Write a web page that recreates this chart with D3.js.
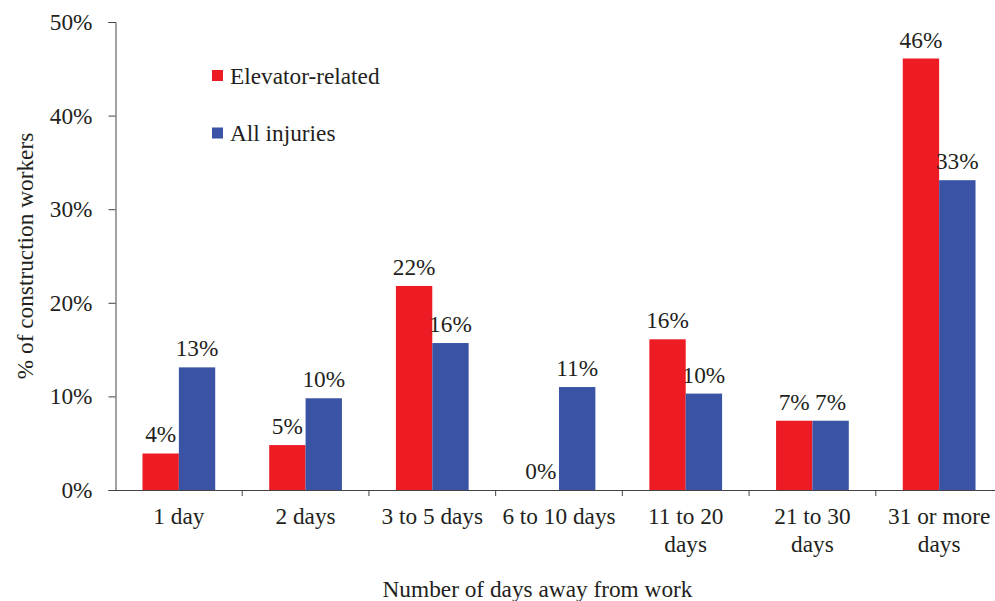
<!DOCTYPE html>
<html>
<head>
<meta charset="utf-8">
<script src="https://cdn.jsdelivr.net/npm/d3@7"></script>
<style>
  body { margin: 0; background: #fff; }
  svg text { fill: #231f20; }
</style>
</head>
<body>
<div id="chart"></div>
<script>
// categories and values
var categories = ["1 day", "2 days", "3 to 5 days", "6 to 10 days", "11 to 20 days", "21 to 30 days", "31 or more days"];
// how each category label is broken into lines
var categoryLines = [["1 day"], ["2 days"], ["3 to 5 days"], ["6 to 10 days"], ["11 to 20", "days"], ["21 to 30", "days"], ["31 or more", "days"]];
var seriesNames = ["Elevator-related", "All injuries"];
var elevator = [3.9, 4.8, 21.8, 0, 16.1, 7.4, 46.1];
var allInjuries = [13.1, 9.8, 15.7, 11.0, 10.3, 7.4, 33.1];
var yTicks = [0, 10, 20, 30, 40, 50];

var colors = ["#ed1c24", "#3b53a4"];
var width = 995, height = 601;
var serif = "'Times New Roman', 'Liberation Serif', serif";
var fs = "23.3px";

var svg = d3.select("#chart").append("svg")
    .attr("width", width)
    .attr("height", height)
    .style("font-family", serif);

var x = d3.scaleBand()
    .domain(categories)
    .range([115.5, 1002.5])
    .padding(0);

var y = d3.scaleLinear()
    .domain([0, 50])
    .range([490, 22]);

var barW = x.bandwidth() * 0.287;

// y axis
var yAxis = d3.axisLeft(y)
    .tickValues(yTicks)
    .tickSize(7)
    .tickPadding(16)
    .tickFormat(function(d){ return d + "%"; });

var gy = svg.append("g")
    .attr("transform", "translate(115.5,0)")
    .call(yAxis)
    .attr("font-family", null);
gy.selectAll("path, line").attr("stroke", "#444");
gy.selectAll("text").style("font-size", fs).attr("fill", "#231f20");

// bars
var series = [elevator, allInjuries];
series.forEach(function(vals, s){
    svg.append("g").selectAll("rect")
        .data(vals)
        .enter().append("rect")
        .attr("x", function(d, i){ return x(categories[i]) + x.bandwidth()/2 - barW + s*barW; })
        .attr("y", function(d){ return y(d); })
        .attr("width", barW)
        .attr("height", function(d){ return y(0) - y(d); })
        .attr("fill", colors[s]);

    svg.append("g").selectAll("text")
        .data(vals)
        .enter().append("text")
        .attr("x", function(d, i){ return x(categories[i]) + x.bandwidth()/2 - barW/2 + s*barW; })
        .attr("y", function(d){ return y(d) - 11; })
        .attr("text-anchor", "middle")
        .style("font-size", fs)
        .text(function(d){ return Math.round(d) + "%"; });
});

// x axis
var xAxis = d3.axisBottom(x).tickSize(0).tickFormat("");
var gx = svg.append("g")
    .attr("transform", "translate(0,490)")
    .call(xAxis);
gx.select("path").attr("stroke", "#444").attr("d", "M109,0.5H1002");

// category boundary ticks
svg.append("g").selectAll("line")
    .data(categories.slice(1))
    .enter().append("line")
    .attr("x1", function(d){ return x(d); })
    .attr("x2", function(d){ return x(d); })
    .attr("y1", 490)
    .attr("y2", 496)
    .attr("stroke", "#444");

// category labels
var lab = svg.append("g").selectAll("text")
    .data(categories)
    .enter().append("text")
    .attr("text-anchor", "middle")
    .attr("transform", function(d){ return "translate(" + (x(d) + x.bandwidth()/2) + ",524)"; })
    .style("font-size", fs);
lab.each(function(d, i){
    var t = d3.select(this);
    categoryLines[i].forEach(function(line, j){
        t.append("tspan").attr("x", 0).attr("y", j*28).text(line);
    });
});

// axis titles
svg.append("text")
    .attr("transform", "translate(33,256) rotate(-90)")
    .attr("text-anchor", "middle")
    .style("font-size", fs)
    .text("% of construction workers");

svg.append("text")
    .attr("x", 537.5)
    .attr("y", 596.5)
    .attr("text-anchor", "middle")
    .style("font-size", fs)
    .text("Number of days away from work");

// legend
var legend = svg.append("g");
seriesNames.forEach(function(name, i){
    legend.append("rect")
        .attr("x", 212)
        .attr("y", 70 + i*57.5)
        .attr("width", 11)
        .attr("height", 11)
        .attr("fill", colors[i]);
    legend.append("text")
        .attr("x", 230)
        .attr("y", 83.5 + i*57.5)
        .style("font-size", fs)
        .text(name);
});
</script>
</body>
</html>
